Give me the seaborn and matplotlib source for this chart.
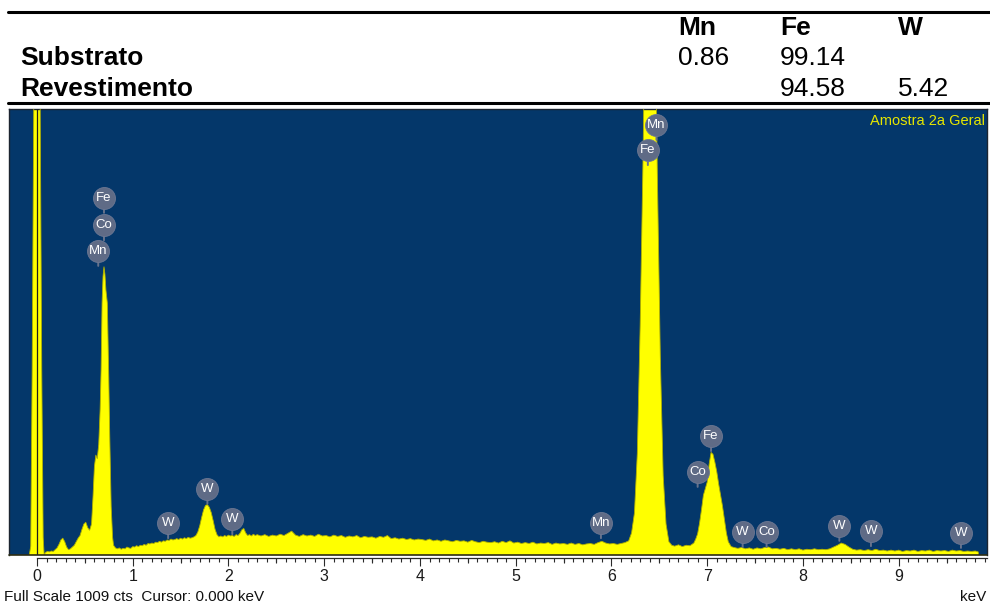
import matplotlib
matplotlib.use("Agg")
import matplotlib.pyplot as plt
from matplotlib.lines import Line2D
import numpy as np
import seaborn as sns

# ---------------- composition table (wt.%) ----------------
elements = ["Mn", "Fe", "W"]
samples = ["Substrato", "Revestimento"]
substrato_wt = ["0.86", "99.14", ""]
revestimento_wt = ["", "94.58", "5.42"]

# ---------------- EDS spectrum: energy (keV) / counts ----------------
zero_peak_kev = [-0.08, -0.065, -0.05, -0.03, -0.01, 0.01, 0.03, 0.05, 0.065, 0.075]
zero_peak_cts = [0, 20, 420, 1150, 1800, 1800, 1150, 420, 40, 0]

fe_l_kev = [0.09, 0.11, 0.13, 0.15, 0.17, 0.19, 0.21, 0.23, 0.25, 0.27,
            0.29, 0.31, 0.33, 0.35, 0.37, 0.39, 0.41, 0.43, 0.45, 0.47,
            0.49, 0.51, 0.53, 0.55, 0.57, 0.585, 0.60, 0.615, 0.63, 0.645,
            0.66, 0.67, 0.68, 0.69, 0.70, 0.71, 0.72, 0.735, 0.75, 0.76,
            0.775, 0.79, 0.80]
fe_l_cts = [6, 8, 7, 9, 8, 12, 16, 24, 34, 38,
            30, 18, 12, 14, 18, 22, 30, 38, 44, 58,
            70, 74, 62, 56, 70, 130, 200, 226, 218, 250,
            330, 420, 570, 630, 652, 635, 600, 570, 400, 270,
            110, 40, 22]

w_m_kev = [0.82, 0.84, 0.86, 0.88, 0.90, 0.92, 0.94, 0.96, 0.98, 1.00,
           1.02, 1.04, 1.06, 1.08, 1.10, 1.12, 1.14, 1.16, 1.18, 1.20,
           1.22, 1.24, 1.26, 1.28, 1.30, 1.32, 1.34, 1.36, 1.38, 1.40,
           1.42, 1.44, 1.46, 1.48, 1.50, 1.52, 1.54, 1.56, 1.58, 1.60,
           1.62, 1.64, 1.66, 1.68, 1.70, 1.72, 1.74, 1.76, 1.78, 1.80,
           1.82, 1.84, 1.86, 1.88, 1.90, 1.92, 1.94, 1.96, 1.98, 2.00,
           2.02, 2.04, 2.06, 2.08, 2.10, 2.12, 2.14, 2.16, 2.18, 2.20,
           2.22, 2.24, 2.26, 2.28, 2.30]
w_m_cts = [16, 14, 16, 13, 15, 14, 18, 16, 15, 19,
           18, 21, 19, 22, 21, 24, 22, 26, 25, 27,
           26, 29, 28, 31, 29, 32, 31, 34, 33, 36,
           34, 35, 37, 35, 38, 36, 39, 37, 40, 38,
           39, 41, 44, 52, 66, 85, 102, 112, 114, 108,
           96, 78, 58, 46, 41, 43, 41, 44, 42, 45,
           43, 44, 42, 46, 44, 49, 57, 60, 50, 44,
           46, 43, 47, 44, 46]

bkg_mid_kev = [2.34, 2.38, 2.42, 2.46, 2.50, 2.54, 2.58, 2.62, 2.66, 2.70,
               2.74, 2.78, 2.82, 2.86, 2.90, 2.94, 2.98, 3.02, 3.06, 3.10,
               3.14, 3.18, 3.22, 3.26, 3.30, 3.34, 3.38, 3.42, 3.46, 3.50,
               3.54, 3.58, 3.62, 3.66, 3.70, 3.74, 3.78, 3.82, 3.86, 3.90,
               3.94, 3.98, 4.02, 4.06, 4.10, 4.14, 4.18, 4.22, 4.26, 4.30,
               4.34, 4.38, 4.42, 4.46, 4.50, 4.54, 4.58, 4.62, 4.66, 4.70,
               4.74, 4.78, 4.82, 4.86, 4.90, 4.94, 4.98, 5.02, 5.06, 5.10,
               5.14, 5.18, 5.22, 5.26, 5.30, 5.34, 5.38, 5.42, 5.46, 5.50,
               5.54, 5.58, 5.62, 5.66, 5.70, 5.74, 5.78, 5.82, 5.86, 5.90,
               5.94, 5.98, 6.02, 6.06, 6.10, 6.14]
bkg_mid_cts = [43, 46, 42, 45, 43, 47, 44, 49, 54, 45,
               42, 46, 43, 45, 42, 47, 43, 44, 41, 45,
               42, 44, 40, 43, 41, 44, 39, 42, 40, 41,
               38, 42, 40, 44, 37, 39, 36, 38, 35, 37,
               34, 36, 35, 33, 36, 32, 34, 31, 34, 32,
               30, 33, 31, 32, 29, 33, 30, 28, 31, 29,
               28, 30, 27, 31, 28, 32, 27, 29, 26, 28,
               26, 29, 25, 27, 26, 28, 24, 27, 25, 26,
               24, 27, 24, 26, 23, 25, 26, 24, 28, 31,
               27, 25, 26, 24, 26, 28]

fe_ka_kev = [6.18, 6.21, 6.24, 6.27, 6.30, 6.33, 6.36, 6.39, 6.42, 6.45,
             6.48, 6.51, 6.54, 6.57, 6.60, 6.63]
fe_ka_cts = [32, 50, 95, 230, 520, 900, 1400, 1720, 1650, 1300,
             850, 450, 180, 70, 30, 22]

fe_kb_kev = [6.66, 6.70, 6.74, 6.78, 6.82, 6.86, 6.88, 6.90, 6.92, 6.94,
             6.96, 6.98, 7.00, 7.02, 7.04, 7.06, 7.08, 7.10, 7.12, 7.14,
             7.16, 7.18, 7.20, 7.22, 7.25]
fe_kb_cts = [20, 23, 19, 22, 21, 27, 36, 48, 72, 102,
             135, 150, 165, 205, 232, 228, 210, 188, 160, 135,
             110, 80, 50, 30, 19]

bkg_high_kev = [7.28, 7.32, 7.36, 7.40, 7.44, 7.48, 7.52, 7.56, 7.60, 7.64,
                7.68, 7.72, 7.76, 7.80, 7.84, 7.88, 7.92, 7.96, 8.00, 8.04,
                8.08, 8.12, 8.16, 8.20, 8.24, 8.28, 8.32, 8.36, 8.40, 8.44,
                8.48, 8.52, 8.56, 8.60, 8.64, 8.68, 8.72, 8.76, 8.80, 8.84,
                8.88, 8.92, 8.96, 9.00, 9.04, 9.08, 9.12, 9.16, 9.20, 9.24,
                9.28, 9.32, 9.36, 9.40, 9.44, 9.48, 9.52, 9.56, 9.60, 9.64,
                9.68, 9.72, 9.76, 9.80, 9.83, 9.835]
bkg_high_cts = [17, 15, 17, 14, 16, 13, 16, 14, 17, 18,
                14, 15, 13, 15, 12, 14, 12, 14, 11, 13,
                12, 14, 12, 13, 12, 14, 18, 22, 27, 24,
                18, 13, 11, 12, 10, 12, 10, 13, 10, 11,
                9, 11, 9, 11, 8, 10, 9, 11, 8, 10,
                9, 11, 8, 10, 9, 10, 8, 11, 9, 10,
                8, 9, 8, 9, 7, 0]

energy_kev = (zero_peak_kev + fe_l_kev + w_m_kev + bkg_mid_kev
              + fe_ka_kev + fe_kb_kev + bkg_high_kev)
counts = (zero_peak_cts + fe_l_cts + w_m_cts + bkg_mid_cts
          + fe_ka_cts + fe_kb_cts + bkg_high_cts)

full_scale_cts = 1009
cursor_kev = 0.000
spectrum_name = "Amostra 2a Geral"

# ---------------- element identification markers ----------------
marker_labels = ["Fe", "Co", "Mn", "W", "W", "W", "Mn", "Mn", "Fe",
                 "Fe", "Co", "W", "Co", "W", "W", "W"]
marker_kev = [0.70, 0.70, 0.64, 1.37, 1.78, 2.04, 5.89, 6.47, 6.38,
              7.04, 6.90, 7.37, 7.62, 8.38, 8.71, 9.65]
marker_cts = [808, 746, 688, 72, 150, 81, 72, 973, 916,
              269, 188, 52, 52, 66, 54, 50]

# ---------------- figure ----------------
sns.set_style("white")
plt.rcParams["font.family"] = ["Liberation Sans", "DejaVu Sans"]

W, H = 990, 605
fig = plt.figure(figsize=(W / 100, H / 100), dpi=100)
fig.patch.set_facecolor("white")


def fx(x):
    return x / W


def fy(y):
    return 1 - y / H


# table rules
fig.add_artist(Line2D([fx(8), fx(990)], [fy(11.5)] * 2, color="black", lw=2.2))
fig.add_artist(Line2D([fx(8), fx(990)], [fy(103.5)] * 2, color="black", lw=2.2))

col_x = [678, 780, 898]
header_y = 35
row_y = [65, 96]
for el, x in zip(elements, col_x):
    fig.text(fx(x), fy(header_y), el, ha="left", va="baseline",
             fontsize=19, fontweight="bold", color="black")
for name, y, vals in zip(samples, row_y, [substrato_wt, revestimento_wt]):
    fig.text(fx(20), fy(y), name, ha="left", va="baseline",
             fontsize=19, fontweight="bold", color="black")
    for v, x in zip(vals, col_x):
        if v:
            fig.text(fx(x), fy(y), v, ha="left", va="baseline",
                     fontsize=19, color="black")

# spectrum panel
ax = fig.add_axes([fx(9), fy(555), (987 - 9) / W, (555 - 109) / H])
ax.set_facecolor("#04376a")
ax.fill_between(energy_kev, counts, 0, color="#ffff00", lw=0, zorder=2)
sns.lineplot(x=energy_kev, y=counts, ax=ax, color="#b0b000", lw=0.6,
             estimator=None, sort=False, zorder=3)
ax.axvline(cursor_kev, color="#1e1e1e", lw=0.9, zorder=4)
ax.set_xlim(-0.292, 9.922)
ax.set_ylim(0, full_scale_cts)
ax.set_xlabel("")
ax.set_ylabel("")
ax.set_yticks([])

for side in ["left", "top", "right"]:
    ax.spines[side].set_color("#1c2430")
    ax.spines[side].set_linewidth(1.0)
ax.spines["bottom"].set_position(("outward", 2))
ax.spines["bottom"].set_bounds(0, 9.92)
ax.spines["bottom"].set_color("#2a2a2a")
ax.spines["bottom"].set_linewidth(0.9)
ax.plot([0, 1], [0, 0], transform=ax.transAxes, color="#2e2e14",
        lw=1.2, clip_on=False, zorder=5)

ax.set_xticks(range(10))
ax.set_xticks(np.arange(0, 9.95, 0.1), minor=True)
ax.tick_params(axis="x", which="both", bottom=True, top=False)
ax.tick_params(axis="x", which="major", direction="out", length=6,
               width=0.8, color="#2a2a2a", pad=2, labelsize=11.5,
               labelcolor="#1a1a1a")
ax.tick_params(axis="x", which="minor", direction="out", length=2.6,
               width=0.8, color="#2a2a2a")
half_ticks = [k + 0.5 for k in range(10)]
ax.vlines(half_ticks, -2.8 / 446, -7.5 / 446, transform=ax.get_xaxis_transform(),
          color="#2a2a2a", lw=0.8, clip_on=False)

# element markers: stem + bubble + symbol
for lab, k, c in zip(marker_labels, marker_kev, marker_cts):
    ax.annotate("", xy=(k, c), xytext=(0, -15), textcoords="offset pixels",
                arrowprops=dict(arrowstyle="-", color="#66728c", lw=1.4,
                                shrinkA=0, shrinkB=0),
                annotation_clip=False, zorder=6)
sns.scatterplot(x=marker_kev, y=marker_cts, ax=ax, s=250, color="#5f6b86",
                edgecolor="#6d7893", linewidth=0.6, zorder=7, legend=False)
for lab, k, c in zip(marker_labels, marker_kev, marker_cts):
    ax.text(k, c, lab, color="white", fontsize=9.5, ha="center", va="center",
            zorder=8)

ax.text((985 - 9) / 978, 1 - 12 / 446, spectrum_name, transform=ax.transAxes,
        ha="right", va="center", color="#e6e600", fontsize=10.5, zorder=8)

fig.text(fx(4), fy(597),
         f"Full Scale {full_scale_cts} cts  Cursor: {cursor_kev:.3f} keV",
         ha="left", va="center", fontsize=11, color="#111111")
fig.text(fx(986), fy(597), "keV", ha="right", va="center", fontsize=11,
         color="#111111")

fig.savefig("out.png", dpi=100)
